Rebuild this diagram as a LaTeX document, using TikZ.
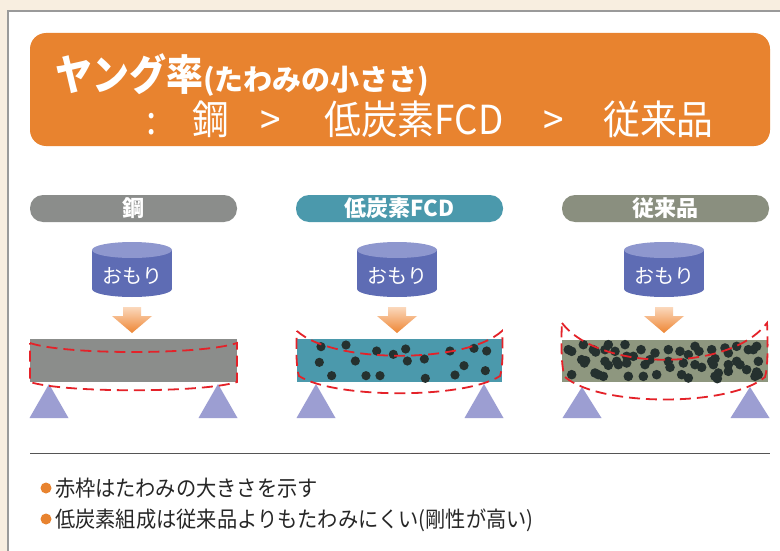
\documentclass[tikz,border=0pt]{standalone}
\usepackage{fontspec}
\usepackage{graphicx}
\setmainfont{Noto Sans CJK JP}
\definecolor{bgbeige}{HTML}{F8EEE0}
\definecolor{panelline}{HTML}{9A9A9A}
\definecolor{bannerorange}{HTML}{E8832F}
\definecolor{steelgray}{HTML}{8B8D8B}
\definecolor{fcdteal}{HTML}{4B99AC}
\definecolor{convpill}{HTML}{8A8F7F}
\definecolor{convolive}{HTML}{8E977F}
\definecolor{weightblue}{HTML}{5E6CB4}
\definecolor{weighttop}{HTML}{8E97CE}
\definecolor{supportlav}{HTML}{9C9ED2}
\definecolor{deflred}{HTML}{E42229}
\definecolor{dotdark}{HTML}{25312F}
\definecolor{arrowlight}{HTML}{FBD8BC}
\definecolor{arroworange}{HTML}{EE8634}
\definecolor{sepgray}{HTML}{555555}
\tikzset{
  pill/.style={rectangle, rounded corners=13pt, minimum width=207pt, minimum height=27pt, inner sep=0pt, text=white, font=\bfseries\fontsize{22}{22}\selectfont},
  weighttext/.style={inner sep=0pt, text=white, font=\fontsize{20}{20}\selectfont},
  titletext/.style={inner sep=0pt, anchor=base west, text=white},
  bullettext/.style={inner sep=0pt, anchor=base west, text=black!85, font=\fontsize{22}{22}\selectfont},
  defl/.style={draw=deflred, line width=1.8pt, dash pattern=on 11pt off 6pt},
  support/.style={fill=supportlav},
  dotfill/.style={fill=dotdark}
}
\begin{document}
\begin{tikzpicture}[x=1pt, y=-1pt]
\useasboundingbox (0,0) rectangle (780,551);
% background and panel
\fill[bgbeige] (0,0) rectangle (780,551);
\fill[white] (8,11) rectangle (790,560);
\draw[panelline, line width=1.2pt] (8,560) -- (8,11) -- (790,11);
% banner
\fill[bannerorange, rounded corners=16pt] (30,33) rectangle (770,146);
\node[titletext] (t1) at (55,91) {{\bfseries\fontsize{42}{42}\selectfont\scalebox{0.88}[1]{ヤング率}}{\bfseries\fontsize{29}{29}\selectfont (たわみの小ささ)}};
\node[titletext] (t2a) at (146,135) {\fontsize{40}{40}\selectfont\scalebox{0.92}[1]{:}};
\node[titletext] (t2b) at (192,135) {\fontsize{40}{40}\selectfont\scalebox{0.92}[1]{鋼}};
\node[titletext] (t2c) at (260,135) {\fontsize{40}{40}\selectfont\scalebox{0.92}[1]{>}};
\node[titletext] (t2d) at (324,135) {\fontsize{40}{40}\selectfont\scalebox{0.92}[1]{低炭素FCD}};
\node[titletext] (t2e) at (543,135) {\fontsize{40}{40}\selectfont\scalebox{0.92}[1]{>}};
\node[titletext] (t2f) at (603,135) {\fontsize{40}{40}\selectfont\scalebox{0.92}[1]{従来品}};
% pills
\node[pill, fill=steelgray] (p1) at (133.5,208.5) {鋼};
\node[pill, fill=fcdteal] (p2) at (399.5,208.5) {低炭素FCD};
\node[pill, fill=convpill] (p3) at (665.5,208.5) {従来品};
% weights and arrows
\foreach \cx/\n in {132/a,397/b,664/c}{
  \fill[weightblue] (\cx-40,250) rectangle (\cx+40,289);
  \fill[weightblue] (\cx,289) ellipse [x radius=40pt, y radius=8pt];
  \fill[weighttop] (\cx,250) ellipse [x radius=40pt, y radius=8pt];
  \node[weighttext] (w\n) at (\cx,276) {おもり};
  \shade[top color=arrowlight, bottom color=arroworange]
    (\cx-9,307) -- (\cx+9,307) -- (\cx+9,316) -- (\cx+20,316) -- (\cx,333) -- (\cx-20,316) -- (\cx-9,316) -- cycle;
}
% beams
\fill[steelgray] (30,339) rectangle (237,382);
\fill[fcdteal] (297,339) rectangle (502,382);
\fill[convolive] (562,340) rectangle (768,382);
% FCD dots
\foreach \x/\y in {93/65,168/60,260/78,310/88,347/72,352/108,403/102,480/78,552/70,590/78,88/112,196/108,125/152,228/152,270/152,406/160,495/150,522/122,586/137}
  \fill[dotfill] ({290+\x/3},{325+\y/3}) circle (4.6pt);
% conventional dots
\foreach \x/\y in {40/95,50/100,85/80,115/95,122/102,150/95,160/80,180/100,210/80,215/115,235/115,258/95,300/105,340/95,375/100,400/110,420/85,432/100,470/95,510/90,520/105,545/85,580/95,605/85,595/95,
80/125,88/135,92/128,150/130,160/142,185/130,190/140,215/135,270/140,285/125,340/130,345/148,385/135,420/140,440/148,470/130,480/122,475/140,520/140,545/130,555/140,610/130,575/155,605/162,
50/170,120/165,130/170,145/175,220/175,265/175,305/170,380/170,400/180,480/175,487/182,490/165,520/160,600/175,610/170}
  \fill[dotfill] ({555+\x/3},{318+\y/3}) circle (4.8pt);
% supports
\foreach \ax/\ay in {49/384,218/384,316/384,484/384,582/387,750/387}
  \fill[support] (\ax,\ay) -- (\ax+19.5,418) -- (\ax-19.5,418) -- cycle;
% deflection outlines
\draw[defl] (30,343) .. controls (64,355) and (202,355) .. (237,343) -- (237,382)
  .. controls (202,393) and (64,393) .. (30,382) -- cycle;
\draw[defl] (297,331) .. controls (333,364) and (466,364) .. (502,331)
  .. controls (503,345) and (503,368) .. (500,376)
  .. controls (464,399) and (335,399) .. (299,376)
  .. controls (296,368) and (296,345) .. (297,331);
\draw[defl] (562,323) .. controls (600,372) and (730,372) .. (767,323)
  .. controls (768,340) and (768,368) .. (765,377)
  .. controls (730,407) and (600,407) .. (565,377)
  .. controls (561,368) and (561,340) .. (562,323);
% separator
\draw[sepgray, line width=0.9pt] (30,453) -- (770,453);
% bullets
\fill[bannerorange] (46,488) circle (5.5pt);
\fill[bannerorange] (46,519) circle (5.5pt);
\node[bullettext] (b1) at (55,496) {\scalebox{0.92}[1]{赤枠はたわみの大きさを示す}};
\node[bullettext] (b2) at (55,527) {\scalebox{0.92}[1]{低炭素組成は従来品よりもたわみにくい(剛性が高い)}};
\end{tikzpicture}
\end{document}
